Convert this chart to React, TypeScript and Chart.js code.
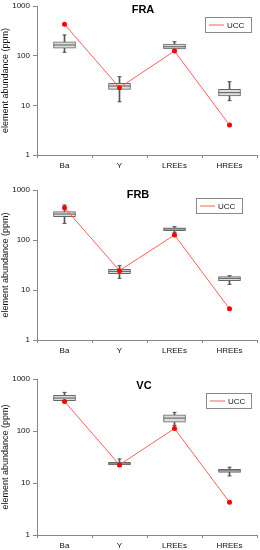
import React, { useEffect, useRef } from 'react';
import { Chart, registerables } from 'chart.js';

Chart.register(...registerables);

const FONT = '"Liberation Sans", Arial, Helvetica, sans-serif';

const categories = ['Ba', 'Y', 'LREEs', 'HREEs'];
const yTickValues = [1, 10, 100, 1000];
const yAxisTitle = 'element abundance (ppm)';
const uccLabel = 'UCC';

// FRA
const fraMin = [117, 11.8, 130, 12.4];
const fraQ1 = [141, 21, 136, 15.4];
const fraMed = [164, 24.5, 151, 18];
const fraQ3 = [191, 27.8, 172, 21];
const fraMax = [261, 37.7, 191, 29.9];
const fraUcc = [428, 22.7, 124, 4.0];

// FRB
const frbMin = [215, 17.1, 142, 13];
const frbQ1 = [293, 21.2, 154, 15.4];
const frbMed = [331, 23.6, 166, 17.1];
const frbQ3 = [369, 25.9, 176, 18.5];
const frbMax = [501, 30.7, 185, 19.3];
const frbUcc = [443, 24.4, 126, 4.2];

// VC
const vcMin = [371, 20.7, 128, 13.7];
const vcQ1 = [382, 22.3, 148, 15.9];
const vcMed = [430, 23.3, 177, 17.1];
const vcQ3 = [484, 25.1, 205, 18.4];
const vcMax = [553, 29, 228, 20.1];
const vcUcc = [371, 22.3, 112, 4.26];

type PanelDef = {
  title: string;
  min: number[];
  q1: number[];
  med: number[];
  q3: number[];
  max: number[];
  ucc: number[];
  layout: {
    top: number;
    height: number;
    padTop: number;
    padBottom: number;
    xHeight: number;
    titleX: number;
    titleDy: number;
    legendX: number;
    legendDy: number;
    legendW: number;
  };
};

const panels: PanelDef[] = [
  {
    title: 'FRA', min: fraMin, q1: fraQ1, med: fraMed, q3: fraQ3, max: fraMax, ucc: fraUcc,
    layout: { top: 0, height: 178, padTop: 6, padBottom: 5, xHeight: 18, titleX: 143, titleDy: 4, legendX: 205, legendDy: 11, legendW: 46 },
  },
  {
    title: 'FRB', min: frbMin, q1: frbQ1, med: frbMed, q3: frbQ3, max: frbMax, ucc: frbUcc,
    layout: { top: 178, height: 185, padTop: 12, padBottom: 5, xHeight: 18, titleX: 138, titleDy: 5, legendX: 196, legendDy: 8, legendW: 46 },
  },
  {
    title: 'VC', min: vcMin, q1: vcQ1, med: vcMed, q3: vcQ3, max: vcMax, ucc: vcUcc,
    layout: { top: 363, height: 187, padTop: 16, padBottom: 0, xHeight: 15, titleX: 144, titleDy: 7, legendX: 206, legendDy: 14, legendW: 45 },
  },
];

const overlayPlugin = {
  id: 'overlay',
  afterDraw(chart: any, _args: any, opts: any) {
    const { ctx, chartArea } = chart;
    ctx.save();
    ctx.font = `bold 11px ${FONT}`;
    ctx.fillStyle = '#000';
    ctx.textAlign = 'center';
    ctx.textBaseline = 'middle';
    ctx.fillText(opts.title, opts.titleX, chartArea.top + opts.titleDy);

    const ds = chart.data.datasets[0];
    const x = opts.legendX;
    const y = chartArea.top + opts.legendDy;
    const w = opts.legendW;
    const h = 15;
    ctx.strokeStyle = '#8a8a8a';
    ctx.lineWidth = 1;
    ctx.strokeRect(x + 0.5, y + 0.5, w, h);
    ctx.strokeStyle = ds.borderColor;
    ctx.beginPath();
    ctx.moveTo(x + 4, y + h / 2 + 0.5);
    ctx.lineTo(x + 19, y + h / 2 + 0.5);
    ctx.stroke();
    ctx.fillStyle = '#111';
    ctx.font = `8px ${FONT}`;
    ctx.textAlign = 'left';
    ctx.fillText(ds.label, x + 22, y + h / 2 + 1);
    ctx.restore();
  },
};

function Panel({ p }: { p: PanelDef }) {
  const ref = useRef<HTMLCanvasElement>(null);
  useEffect(() => {
    const L = p.layout;
    const chart = new Chart(ref.current as HTMLCanvasElement, {
      type: 'bar',
      data: {
        labels: categories,
        datasets: [
          {
            type: 'line', label: uccLabel, data: p.ucc,
            borderColor: '#ff5c5c', borderWidth: 1,
            pointRadius: 2.5, pointBackgroundColor: '#ff0000', pointBorderColor: '#ff0000', pointBorderWidth: 0,
            order: 0,
          } as any,
          {
            type: 'line', label: 'median', data: p.med, showLine: false,
            pointStyle: 'line', pointRadius: 11, pointBorderColor: '#5a5a5a', pointBorderWidth: 1,
            order: 1,
          } as any,
          {
            type: 'line', label: 'max', data: p.max, showLine: false,
            pointStyle: 'line', pointRadius: 2, pointBorderColor: '#555', pointBorderWidth: 1,
            order: 1,
          } as any,
          {
            type: 'line', label: 'min', data: p.min, showLine: false,
            pointStyle: 'line', pointRadius: 2, pointBorderColor: '#555', pointBorderWidth: 1,
            order: 1,
          } as any,
          {
            type: 'bar', label: 'box', data: p.q1.map((v, i) => [v, p.q3[i]]),
            backgroundColor: '#dcdcdc', borderColor: '#666', borderWidth: 1, borderSkipped: false,
            barThickness: 22, grouped: false, order: 2,
          } as any,
          {
            type: 'bar', label: 'whisker', data: p.min.map((v, i) => [v, p.max[i]]),
            backgroundColor: '#555', borderWidth: 0,
            barThickness: 1, grouped: false, order: 3,
          } as any,
        ],
      },
      options: {
        responsive: false,
        animation: false,
        events: [],
        devicePixelRatio: 1,
        layout: { autoPadding: false, padding: { top: L.padTop, bottom: L.padBottom, left: 0, right: 3 } },
        plugins: {
          legend: { display: false },
          tooltip: { enabled: false },
          title: { display: false },
          overlay: {
            title: p.title, titleX: L.titleX, titleDy: L.titleDy,
            legendX: L.legendX, legendDy: L.legendDy, legendW: L.legendW,
          },
        } as any,
        scales: {
          x: {
            type: 'category',
            offset: true,
            grid: { display: true, offset: true, drawOnChartArea: false, drawTicks: true, tickLength: 3, color: '#888' },
            border: { display: true, color: '#888' },
            ticks: { color: '#111', font: { family: FONT, size: 8 }, padding: 3, maxRotation: 0 },
            afterFit: (s: any) => { s.height = L.xHeight; s.paddingLeft = 0; s.paddingRight = 0; },
          },
          y: {
            type: 'logarithmic',
            min: 1,
            max: 1000,
            afterBuildTicks: (s: any) => { s.ticks = yTickValues.map((v) => ({ value: v })); },
            afterFit: (s: any) => { s.width = 37; s.paddingTop = 0; s.paddingBottom = 0; },
            grid: { display: true, drawOnChartArea: false, drawTicks: true, tickLength: 4, color: '#888' },
            border: { display: true, color: '#888' },
            ticks: {
              color: '#111', font: { family: FONT, size: 8 }, padding: 3,
              callback: (v: any) => String(v),
            },
            title: {
              display: true, text: yAxisTitle, color: '#111',
              font: { family: FONT, size: 9 }, padding: { top: 0, bottom: 0 },
            },
          },
        },
      } as any,
      plugins: [overlayPlugin as any],
    });
    return () => chart.destroy();
  }, [p]);
  return (
    <canvas
      ref={ref}
      width={260}
      height={p.layout.height}
      style={{ position: 'absolute', left: 0, top: p.layout.top, width: 260, height: p.layout.height, display: 'block' }}
    />
  );
}

export default function App() {
  return (
    <div style={{ position: 'absolute', left: 0, top: 0, width: 260, height: 550, background: '#fff' }}>
      {panels.map((p) => (
        <Panel key={p.title} p={p} />
      ))}
    </div>
  );
}
